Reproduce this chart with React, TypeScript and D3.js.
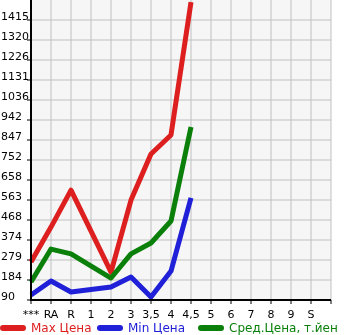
import React from "react";
import * as d3 from "d3";

const categories = ["***", "RA", "R", "1", "2", "3", "3,5", "4", "4,5", "5", "6", "7", "8", "9", "S"];
const yTickLabels = ["90", "184", "279", "374", "468", "563", "658", "752", "847", "942", "1036", "1131", "1226", "1320", "1415"];
const maxPrice: (number | null)[] = [270, 435, 610, null, 222, 563, 781, 871, 1500, null, null, null, null, null, null];
const minPrice: (number | null)[] = [114, 180, 128, null, 152, 199, 104, 227, 573, null, null, null, null, null, null];
const avgPrice: (number | null)[] = [175, 331, 308, null, 194, 308, 360, 464, 909, null, null, null, null, null, null];

const seriesNames = ["Max Цена", "Min Цена", "Сред.Цена, т.йен"];
const seriesColors = ["#dd1f1f", "#2020d8", "#0a800a"];

export default function App() {
  const W = 345, H = 335;
  const left = 31, right = 331, top = 0, bottom = 300;
  const step = (1415 - 90) / 14;
  const yMin = 90, yMax = 90 + 15 * step;
  const x = d3.scaleLinear().domain([0, 15]).range([left, right]);
  const y = d3.scaleLinear().domain([yMin, yMax]).range([bottom, top]);
  const font = "'DejaVu Sans', Verdana, sans-serif";

  const line = d3
    .line<{ i: number; v: number }>()
    .x((d) => x(d.i))
    .y((d) => y(d.v));

  const series = [maxPrice, minPrice, avgPrice];
  const pts = (arr: (number | null)[]) =>
    arr.map((v, i) => ({ i, v })).filter((d) => d.v !== null) as { i: number; v: number }[];

  const gridX = d3.range(1, 16);
  const gridY = d3.range(1, 15);

  const legendX = [0, 97, 198];

  return (
    <svg width={W} height={H} style={{ position: "fixed", left: 0, top: 0 }} fontFamily={font}>
      <rect x={left} y={top} width={right - left} height={bottom - top} fill="#f6f6f6" />
      {gridX.map((i) => (
        <line key={"gx" + i} x1={x(i)} x2={x(i)} y1={top} y2={bottom} stroke="#c0c0c0" strokeWidth={1} />
      ))}
      {gridY.map((k) => (
        <line key={"gy" + k} x1={left} x2={right} y1={y(yMin + k * step)} y2={y(yMin + k * step)} stroke="#c0c0c0" strokeWidth={1} />
      ))}
      {yTickLabels.map((t, k) => (
        <g key={"yt" + k}>
          <line x1={left - 4} x2={left} y1={y(yMin + k * step)} y2={y(yMin + k * step)} stroke="#000" strokeWidth={1} />
          <text x={1} y={y(yMin + k * step) + 0} fontSize={11} fill="#000">
            {t}
          </text>
        </g>
      ))}
      {categories.map((c, i) => (
        <g key={"xt" + i}>
          <line x1={x(i)} x2={x(i)} y1={bottom} y2={bottom + 4} stroke="#000" strokeWidth={1} />
          <text x={x(i)} y={318} fontSize={11} textAnchor="middle" fill="#000">
            {c}
          </text>
        </g>
      ))}
      <line x1={right} x2={right} y1={bottom} y2={bottom + 4} stroke="#000" strokeWidth={1} />
      {series.map((s, k) => (
        <path
          key={"s" + k}
          d={line(pts(s)) || ""}
          fill="none"
          stroke={seriesColors[k]}
          strokeWidth={5}
          strokeLinejoin="round"
          strokeLinecap="butt"
        />
      ))}
      <line x1={left} x2={left} y1={top} y2={bottom + 1} stroke="#000" strokeWidth={2} />
      <line x1={left - 1} x2={right} y1={bottom} y2={bottom} stroke="#000" strokeWidth={2} />
      {seriesNames.map((n, k) => (
        <g key={"lg" + k}>
          <line x1={legendX[k] + 3} x2={legendX[k] + 23} y1={328} y2={328} stroke={seriesColors[k]} strokeWidth={6} strokeLinecap="round" />
          <text x={legendX[k] + 31} y={332} fontSize={12} fill={seriesColors[k]}>
            {n}
          </text>
        </g>
      ))}
    </svg>
  );
}
